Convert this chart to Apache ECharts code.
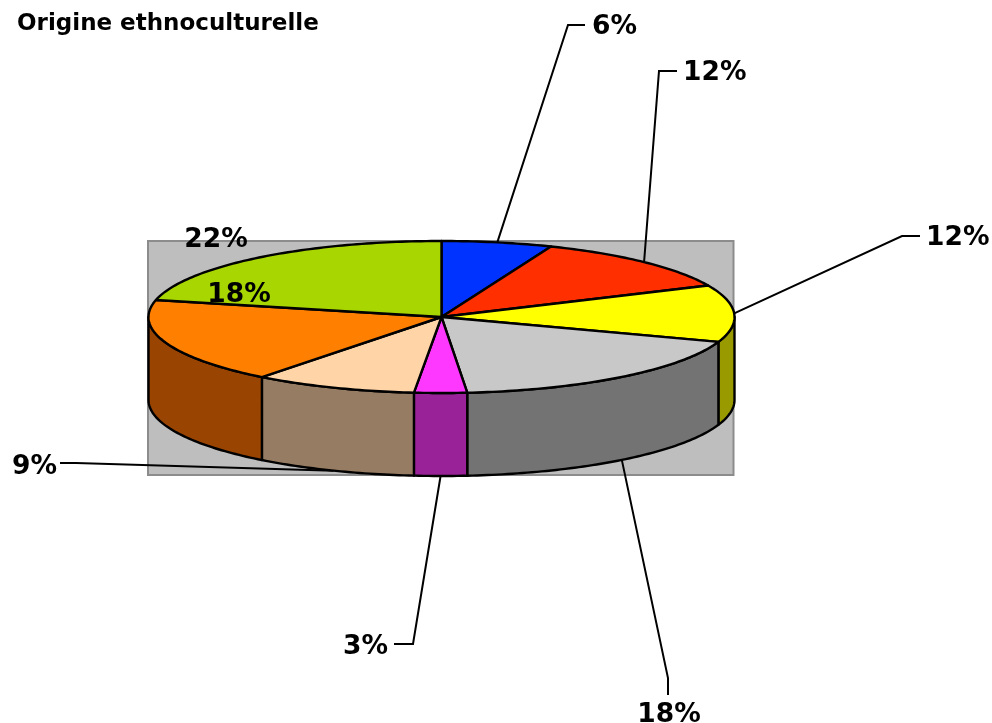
<!DOCTYPE html>
<html>
<head>
<meta charset="utf-8">
<style>
  html, body { margin: 0; padding: 0; background: #fff; }
  #chart { width: 992px; height: 723px; }
</style>
<script src="https://cdn.jsdelivr.net/npm/echarts@6/dist/echarts.min.js"></script>
</head>
<body>
<div id="chart"></div>
<script>
// === Datos ===================================================================
const chartTitle = 'Origine ethnoculturelle';
const labels = ['6%', '12%', '12%', '18%', '3%', '9%', '18%', '22%'];
const shares = [6.1, 12.1, 12.1, 18.3, 2.9, 9, 18.1, 21.4];

// === Paleta ==================================================================
const topColors  = ['#0033FF', '#FF2F00', '#FFFF00', '#C8C8C8', '#FF38FF', '#FFD5A8', '#FF8000', '#A8D600'];
const sideColors = ['#001F99', '#991C00', '#999900', '#737373', '#992299', '#967C62', '#994400', '#658000'];
const plotFill = '#BEBEBE', plotBorder = '#8C8C8C', ink = '#000';

// === Geometría del pastel 3D =================================================
const pie = { cx: 441.5, cy: 317, rx: 293, ry: 76, depth: 83 };
const plotBox = { x: 148, y: 241, width: 585.5, height: 234 };
const labelFont = 'bold 26.5px "DejaVu Sans"';

// elbow = puntos de la guía después del punto de anclaje en el borde
const labelLayout = [
  { elbow: [[568, 25], [585, 25]],   text: [592, 27],  align: 'left' },
  { elbow: [[659, 71], [677, 71]],   text: [683, 73],  align: 'left' },
  { elbow: [[902, 236], [920, 236]], text: [926, 238], align: 'left' },
  { elbow: [[668, 678], [668, 695]], text: [669, 715], align: 'center' },
  { elbow: [[413, 644], [394, 644]], text: [388, 647], align: 'right' },
  { elbow: [[76, 463], [60, 463]],   text: [57, 467],  align: 'right' },
  { elbow: null, text: [239, 295], align: 'center' },
  { elbow: null, text: [216, 240], align: 'center' }
];

// === Helpers =================================================================
const total = shares.reduce((a, b) => a + b, 0);
const angleAt = pct => pct / total * Math.PI * 2;
const bounds = shares.reduce((acc, v) => { acc.push(acc[acc.length - 1] + v); return acc; }, [0]);

// ángulo 0 = arriba, sentido horario
function rim(a, dy = 0) {
  return [pie.cx + pie.rx * Math.sin(a), pie.cy - pie.ry * Math.cos(a) + dy];
}
function arc(a0, a1, dy = 0) {
  const n = Math.max(2, Math.ceil(Math.abs(a1 - a0) / (Math.PI / 180)));
  const pts = [];
  for (let i = 0; i <= n; i++) pts.push(rim(a0 + (a1 - a0) * i / n, dy));
  return pts;
}

function renderSide(params) {
  const i = params.dataIndex;
  const a0 = Math.max(angleAt(bounds[i]), Math.PI / 2);
  const a1 = Math.min(angleAt(bounds[i + 1]), Math.PI * 1.5);
  if (a1 <= a0) return null;
  return {
    type: 'polygon',
    shape: { points: [...arc(a0, a1), ...arc(a1, a0, pie.depth)] },
    style: { fill: sideColors[i], stroke: ink, lineWidth: 2.4, lineJoin: 'round' }
  };
}

function renderTop(params) {
  const i = params.dataIndex;
  const pts = [[pie.cx, pie.cy], ...arc(angleAt(bounds[i]), angleAt(bounds[i + 1]))];
  return {
    type: 'polygon',
    shape: { points: pts },
    style: { fill: topColors[i], stroke: ink, lineWidth: 2.4, lineJoin: 'round' }
  };
}

// guía: sale del punto medio de la porción, sobre el borde visible
function renderLeader(params) {
  const i = params.dataIndex;
  const l = labelLayout[i];
  if (!l.elbow) return null;
  const mid = angleAt((bounds[i] + bounds[i + 1]) / 2);
  const front = mid > Math.PI / 2 && mid < Math.PI * 1.5;
  return {
    type: 'polyline',
    shape: { points: [rim(mid, front ? pie.depth : 0), ...l.elbow] },
    style: { fill: null, stroke: ink, lineWidth: 2 }
  };
}

function renderLabel(params) {
  const i = params.dataIndex;
  const l = labelLayout[i];
  return {
    type: 'text',
    style: {
      x: l.text[0], y: l.text[1], text: labels[i],
      font: labelFont, fill: ink, align: l.align, verticalAlign: 'middle'
    }
  };
}

const seriesData = shares.map((v, i) => [i, v]);
const layer = (renderItem, z) => ({
  type: 'custom', coordinateSystem: 'none', renderItem,
  data: seriesData, z, silent: true, animation: false, clip: false
});

// === Render ==================================================================
const chart = echarts.init(document.getElementById('chart'), null, { renderer: 'canvas' });
chart.setOption({
  backgroundColor: '#fff',
  animation: false,
  title: {
    text: chartTitle, left: 17, top: 13, padding: 0,
    textStyle: { fontFamily: 'DejaVu Sans', fontWeight: 'bold', fontSize: 23, color: ink }
  },
  graphic: [{
    type: 'rect', z: 0, silent: true,
    shape: plotBox,
    style: { fill: plotFill, stroke: plotBorder, lineWidth: 2 }
  }],
  series: [
    layer(renderLeader, 2),
    layer(renderSide, 3),
    layer(renderTop, 4),
    layer(renderLabel, 5)
  ]
});
</script>
</body>
</html>
